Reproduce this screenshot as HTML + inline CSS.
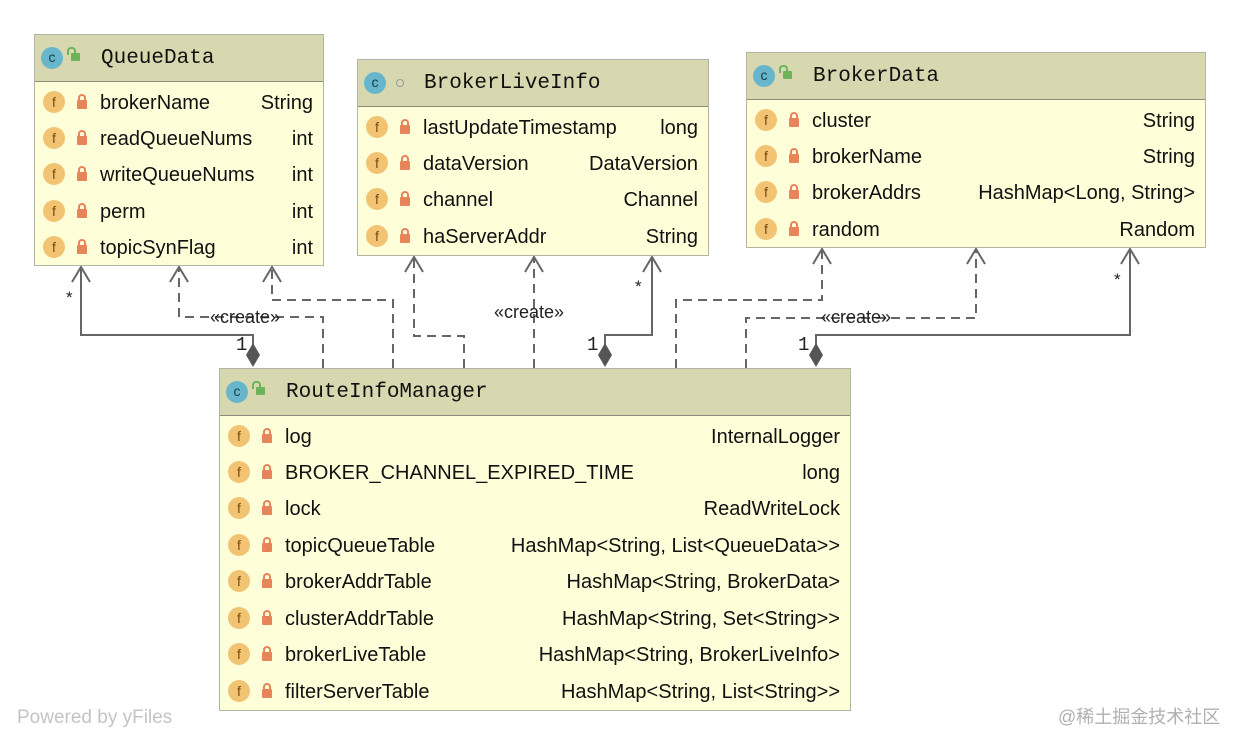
<!DOCTYPE html>
<html><head><meta charset="utf-8"><style>
body{margin:0;width:1240px;height:745px;background:#fff;position:relative;overflow:hidden;font-family:"Liberation Sans",sans-serif}
.box{position:absolute;background:#fefed9;border:1.5px solid #b4b4a4;box-sizing:border-box}
.hd{height:46px;background:#d8d8b0;border-bottom:1.5px solid #8c8c7c;position:relative}
.hd .t{position:absolute;left:66px;top:12px;font-family:"Liberation Mono",monospace;font-size:21px;color:#111}
.ci{position:absolute;left:6px;top:12px;width:22px;height:22px;border-radius:50%;background:#67b6cc;color:#1a3a48;font-size:14px;text-align:center;line-height:21px}
.un{position:absolute;left:36px;top:18px;width:9px;height:8px;background:#6cb35a;border-radius:1px}
.un:before{content:"";position:absolute;left:-4px;top:-6px;width:5px;height:6px;border:2px solid #6cb35a;border-bottom:none;border-radius:4px 4px 0 0}
.row{position:absolute;left:0;right:0;height:36px;font-size:20px;color:#111}
.row .fi{position:absolute;left:8px;top:6px;width:22px;height:22px;border-radius:50%;background:#f2c372;color:#7a4a10;font-size:14px;text-align:center;line-height:22px}
.row .lk{position:absolute;left:42px;top:15px;width:10px;height:9px;background:#e8845a;border-radius:1px}
.row .lk:before{content:"";position:absolute;left:1px;top:-6px;width:4px;height:6px;border:2px solid #e8845a;border-bottom:none;border-radius:4px 4px 0 0}
.row .n{position:absolute;left:65px;top:7px}
.row .ty{position:absolute;right:10px;top:7px}
.lbl{position:absolute;font-size:17px;color:#222}
</style></head><body>
<svg width="1240" height="745" style="position:absolute;left:0;top:0">
<g fill="none" stroke="#666" stroke-width="2">
<polyline points="253,350 253,335 81,335 81,268"/>
<polyline points="605,350 605,335 652,335 652,258"/>
<polyline points="816,350 816,335 1130,335 1130,250"/>
<g stroke-dasharray="9,6">
<polyline points="323,368 323,317 179,317 179,268"/>
<polyline points="393,368 393,300 272,300 272,268"/>
<polyline points="464,368 464,336 414,336 414,258"/>
<polyline points="534,368 534,258"/>
<polyline points="676,368 676,300 822,300 822,250"/>
<polyline points="746,368 746,318 976,318 976,250"/>
</g>
<g stroke-dasharray="none">
<polyline points="72,282 81,267 90,282"/>
<polyline points="170,282 179,267 188,282"/>
<polyline points="263,282 272,267 281,282"/>
<polyline points="405,272 414,257 423,272"/>
<polyline points="525,272 534,257 543,272"/>
<polyline points="643,272 652,257 661,272"/>
<polyline points="813,264 822,249 831,264"/>
<polyline points="967,264 976,249 985,264"/>
<polyline points="1121,264 1130,249 1139,264"/>
</g></g>
<g fill="#555"><polygon points="253,343 260,355 253,367 246,355"/><polygon points="605,343 612,355 605,367 598,355"/><polygon points="816,343 823,355 816,367 809,355"/></g>
</svg>
<div class="lbl" style="left:66px;top:288px">*</div>
<div class="lbl" style="left:236px;top:334px;font-family:'Liberation Mono',monospace;font-size:19px">1</div>
<div class="lbl" style="left:210px;top:307px;font-size:18px">«create»</div>
<div class="lbl" style="left:494px;top:302px;font-size:18px">«create»</div>
<div class="lbl" style="left:635px;top:277px">*</div>
<div class="lbl" style="left:587px;top:334px;font-family:'Liberation Mono',monospace;font-size:19px">1</div>
<div class="lbl" style="left:821px;top:307px;font-size:18px">«create»</div>
<div class="lbl" style="left:1114px;top:270px">*</div>
<div class="lbl" style="left:798px;top:334px;font-family:'Liberation Mono',monospace;font-size:19px">1</div>

<div class="box" style="left:34px;top:34px;width:290px;height:232px">
<div class="hd"><div class="ci">c</div><div class="un"></div><div class="t">QueueData</div></div>
<div class="row" style="top:50px"><div class="fi">f</div><div class="lk"></div><div class="n">brokerName</div><div class="ty">String</div></div>
<div class="row" style="top:86px"><div class="fi">f</div><div class="lk"></div><div class="n">readQueueNums</div><div class="ty">int</div></div>
<div class="row" style="top:122px"><div class="fi">f</div><div class="lk"></div><div class="n">writeQueueNums</div><div class="ty">int</div></div>
<div class="row" style="top:159px"><div class="fi">f</div><div class="lk"></div><div class="n">perm</div><div class="ty">int</div></div>
<div class="row" style="top:195px"><div class="fi">f</div><div class="lk"></div><div class="n">topicSynFlag</div><div class="ty">int</div></div>
</div>

<div class="box" style="left:357px;top:59px;width:352px;height:197px">
<div class="hd"><div class="ci">c</div><div style="position:absolute;left:38px;top:19px;width:6px;height:6px;border:1.5px solid #999;border-radius:50%"></div><div class="t">BrokerLiveInfo</div></div>
<div class="row" style="top:50px"><div class="fi">f</div><div class="lk"></div><div class="n">lastUpdateTimestamp</div><div class="ty">long</div></div>
<div class="row" style="top:86px"><div class="fi">f</div><div class="lk"></div><div class="n">dataVersion</div><div class="ty">DataVersion</div></div>
<div class="row" style="top:122px"><div class="fi">f</div><div class="lk"></div><div class="n">channel</div><div class="ty">Channel</div></div>
<div class="row" style="top:159px"><div class="fi">f</div><div class="lk"></div><div class="n">haServerAddr</div><div class="ty">String</div></div>
</div>

<div class="box" style="left:746px;top:52px;width:460px;height:196px">
<div class="hd"><div class="ci">c</div><div class="un"></div><div class="t">BrokerData</div></div>
<div class="row" style="top:50px"><div class="fi">f</div><div class="lk"></div><div class="n">cluster</div><div class="ty">String</div></div>
<div class="row" style="top:86px"><div class="fi">f</div><div class="lk"></div><div class="n">brokerName</div><div class="ty">String</div></div>
<div class="row" style="top:122px"><div class="fi">f</div><div class="lk"></div><div class="n">brokerAddrs</div><div class="ty">HashMap&lt;Long, String&gt;</div></div>
<div class="row" style="top:159px"><div class="fi">f</div><div class="lk"></div><div class="n">random</div><div class="ty">Random</div></div>
</div>

<div class="box" style="left:219px;top:368px;width:632px;height:343px">
<div class="hd"><div class="ci">c</div><div class="un"></div><div class="t">RouteInfoManager</div></div>
<div class="row" style="top:50px"><div class="fi">f</div><div class="lk"></div><div class="n">log</div><div class="ty">InternalLogger</div></div>
<div class="row" style="top:86px"><div class="fi">f</div><div class="lk"></div><div class="n">BROKER_CHANNEL_EXPIRED_TIME</div><div class="ty">long</div></div>
<div class="row" style="top:122px"><div class="fi">f</div><div class="lk"></div><div class="n">lock</div><div class="ty">ReadWriteLock</div></div>
<div class="row" style="top:159px"><div class="fi">f</div><div class="lk"></div><div class="n">topicQueueTable</div><div class="ty">HashMap&lt;String, List&lt;QueueData&gt;&gt;</div></div>
<div class="row" style="top:195px"><div class="fi">f</div><div class="lk"></div><div class="n">brokerAddrTable</div><div class="ty">HashMap&lt;String, BrokerData&gt;</div></div>
<div class="row" style="top:232px"><div class="fi">f</div><div class="lk"></div><div class="n">clusterAddrTable</div><div class="ty">HashMap&lt;String, Set&lt;String&gt;&gt;</div></div>
<div class="row" style="top:268px"><div class="fi">f</div><div class="lk"></div><div class="n">brokerLiveTable</div><div class="ty">HashMap&lt;String, BrokerLiveInfo&gt;</div></div>
<div class="row" style="top:305px"><div class="fi">f</div><div class="lk"></div><div class="n">filterServerTable</div><div class="ty">HashMap&lt;String, List&lt;String&gt;&gt;</div></div>
</div>

<div style="position:absolute;left:17px;top:707px;font-size:19px;color:#c4c4c4">Powered by yFiles</div>
<div style="position:absolute;left:1058px;top:703px;font-size:18px;color:#b0b0b0;font-family:'Liberation Sans','Noto Sans CJK SC',sans-serif">@稀土掘金技术社区</div>
</body></html>
